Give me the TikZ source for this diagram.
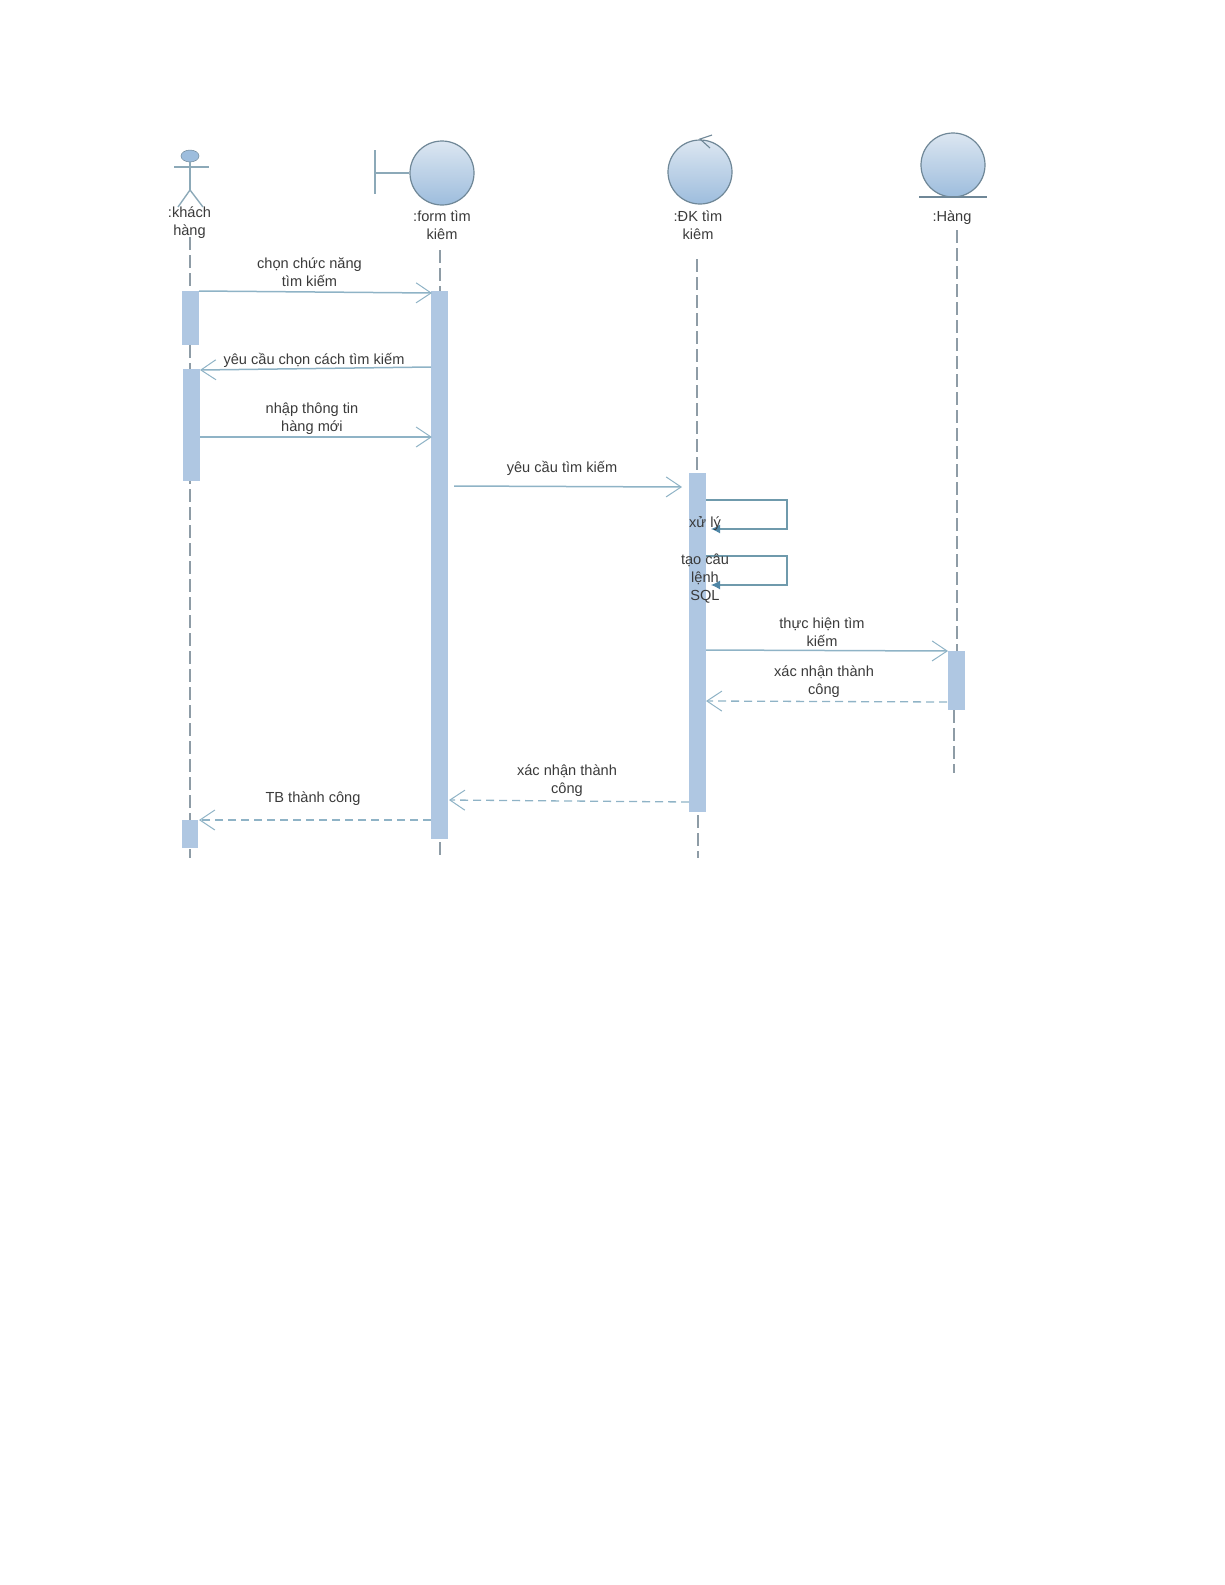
\documentclass[tikz,border=0pt]{standalone}
\usepackage{fontspec}
\setmainfont{Liberation Sans}
\usetikzlibrary{arrows.meta,shapes.geometric}
\definecolor{barblue}{HTML}{AFC7E2}
\definecolor{msgline}{HTML}{8FB3C6}
\definecolor{lifeln}{HTML}{8E9CA6}
\definecolor{selfln}{HTML}{6F9AAC}
\definecolor{selfhead}{HTML}{4F86A6}
\definecolor{ringln}{HTML}{6F8797}
\definecolor{labeltxt}{HTML}{3A3A3A}
\definecolor{ballTop}{HTML}{DCE6F1}
\definecolor{ballBot}{HTML}{9DBDDD}
\tikzset{
  activation/.style={fill=barblue,draw=none,inner sep=0pt,minimum width=17pt},
  lifeline/.style={draw=lifeln,line width=1.2pt,dash pattern=on 13pt off 5pt},
  ball/.style={circle,draw=ringln,line width=1.2pt,top color=ballTop,bottom color=ballBot,minimum size=64pt,inner sep=0pt},
  glyphln/.style={draw=msgline!80!gray,line width=1.4pt},
  msg/.style={draw=msgline,line width=1.5pt,-{Straight Barb[length=15pt,width=20pt,line width=1pt]}},
  ret/.style={draw=msgline,line width=1.3pt,dash pattern=on 8pt off 5pt,-{Straight Barb[length=15pt,width=20pt,line width=1pt]}},
  selfmsg/.style={draw=selfln,line width=1.2pt,-{Latex[length=9pt,width=9pt,color=selfhead]}},
  lbl/.style={text=labeltxt,font=\fontsize{14.6}{17.8}\selectfont,align=center,inner sep=0pt,yshift=-2pt}
}
\begin{document}
\begin{tikzpicture}[x=1pt,y=-1pt]
\useasboundingbox (0,0) rectangle (1225,1585);
% actor glyph
\node[ellipse,fill=ballBot,draw=ringln,line width=0.5pt,minimum width=18pt,minimum height=12pt,inner sep=0pt] (head) at (190,156) {};
\coordinate (armL) at (174,167); \coordinate (armR) at (209,167);
\coordinate (armM) at (190,167); \coordinate (hip) at (190,190);
\coordinate (legL) at (178,207); \coordinate (legR) at (203,207);
\draw[glyphln] (armL) -- (armR);
\draw[glyphln] (head) -- (hip);
\draw[glyphln] (legL) -- (hip) -- (legR);
% boundary
\node[ball] (form) at (442,173) {};
\coordinate (barT) at (375,150); \coordinate (barB) at (375,194); \coordinate (barM) at (375,173);
\draw[glyphln] (barT) -- (barB);
\draw[glyphln] (barM) -- (form);
% control
\node[ball] (ctrl) at (700,172) {};
\coordinate (cTip) at (700,139); \coordinate (cA) at (712,135); \coordinate (cB) at (710,148);
\draw[draw=ringln,line width=1.1pt] (cA) -- (cTip) -- (cB);
% entity
\node[ball] (ent) at (953,165) {};
\coordinate (entL) at (919,197); \coordinate (entR) at (987,197);
\draw[draw=ringln,line width=1.1pt] (entL) -- (entR);
% lifeline ends
\coordinate (l1a) at (190,237); \coordinate (l1b) at (190,858);
\coordinate (l2a) at (440,250); \coordinate (l2b) at (440,291);
\coordinate (l2c) at (440,842); \coordinate (l2d) at (440,858);
\coordinate (l3a) at (697,259); \coordinate (l3b) at (697,480);
\coordinate (l3c) at (698,815); \coordinate (l3d) at (698,858);
\coordinate (l4a) at (957,230); \coordinate (l4b) at (957,651);
\coordinate (l4c) at (954,710); \coordinate (l4d) at (954,773);
\draw[lifeline] (l1a) -- (l1b);
\draw[lifeline] (l2a) -- (l2b);
\draw[lifeline] (l2c) -- (l2d);
\draw[lifeline] (l3a) -- (l3b);
\draw[lifeline] (l3c) -- (l3d);
\draw[lifeline] (l4a) -- (l4b);
\draw[lifeline] (l4c) -- (l4d);
% activations
\node[activation,minimum height=54pt] (a1) at (190.5,318) {};
\node[activation,minimum height=112pt] (a2) at (191.5,425) {};
\node[activation,minimum height=28pt,minimum width=16pt] (a3) at (190,834) {};
\node[activation,minimum height=548pt] (b1) at (439.5,565) {};
\node[activation,minimum height=339pt] (c1) at (697.5,642.5) {};
\node[activation,minimum height=59pt] (d1) at (956.5,680.5) {};
% message ends
\coordinate (m1s) at (199,291); \coordinate (m1e) at (432,293);
\coordinate (m2s) at (431,367); \coordinate (m2e) at (200,370);
\coordinate (m3s) at (200,437); \coordinate (m3e) at (432,437);
\coordinate (m4s) at (454,486); \coordinate (m4e) at (682,487);
\coordinate (s1a) at (706,500); \coordinate (s1b) at (787,500); \coordinate (s1c) at (787,529); \coordinate (s1d) at (711,529);
\coordinate (s2a) at (706,556); \coordinate (s2b) at (787,556); \coordinate (s2c) at (787,585); \coordinate (s2d) at (711,585);
\coordinate (m5s) at (706,650); \coordinate (m5e) at (948,651);
\coordinate (m6s) at (947,702); \coordinate (m6e) at (706,701);
\coordinate (m7s) at (689,802); \coordinate (m7e) at (449,800);
\coordinate (m8s) at (431,820); \coordinate (m8e) at (199,820);
\draw[msg] (m1s) -- (m1e);
\draw[msg] (m2s) -- (m2e);
\draw[msg] (m3s) -- (m3e);
\draw[msg] (m4s) -- (m4e);
\draw[selfmsg] (s1a) -- (s1b) -- (s1c) -- (s1d);
\draw[selfmsg] (s2a) -- (s2b) -- (s2c) -- (s2d);
\draw[msg] (m5s) -- (m5e);
\draw[ret] (m6s) -- (m6e);
\draw[ret] (m7s) -- (m7e);
\draw[ret] (m8s) -- (m8e);
% labels
\node[lbl] (t1) at (189.5,221) {:khách\\hàng};
\node[lbl] (t2) at (442,223) {:form tìm\\kiêm};
\node[lbl] (t3) at (698,223) {:ĐK tìm\\kiêm};
\node[lbl] (t4) at (952,216) {:Hàng};
\node[lbl] (t5) at (309.5,270.5) {chọn chức năng\\tìm kiếm};
\node[lbl] (t6) at (314,358) {yêu cầu chọn cách tìm kiếm};
\node[lbl] (t7) at (312,417) {nhập thông tin\\hàng mới};
\node[lbl] (t8) at (562,466) {yêu cầu tìm kiếm};
\node[lbl] (t9) at (705,521) {xử lý};
\node[lbl] (t10) at (705,576.5) {tạo câu\\lệnh\\SQL};
\node[lbl] (t11) at (822,630) {thực hiện tìm\\kiếm};
\node[lbl] (t12) at (824,679.5) {xác nhận thành\\công};
\node[lbl] (t13) at (567,778.5) {xác nhận thành\\công};
\node[lbl] (t14) at (313,797) {TB thành công};
\end{tikzpicture}
\end{document}
